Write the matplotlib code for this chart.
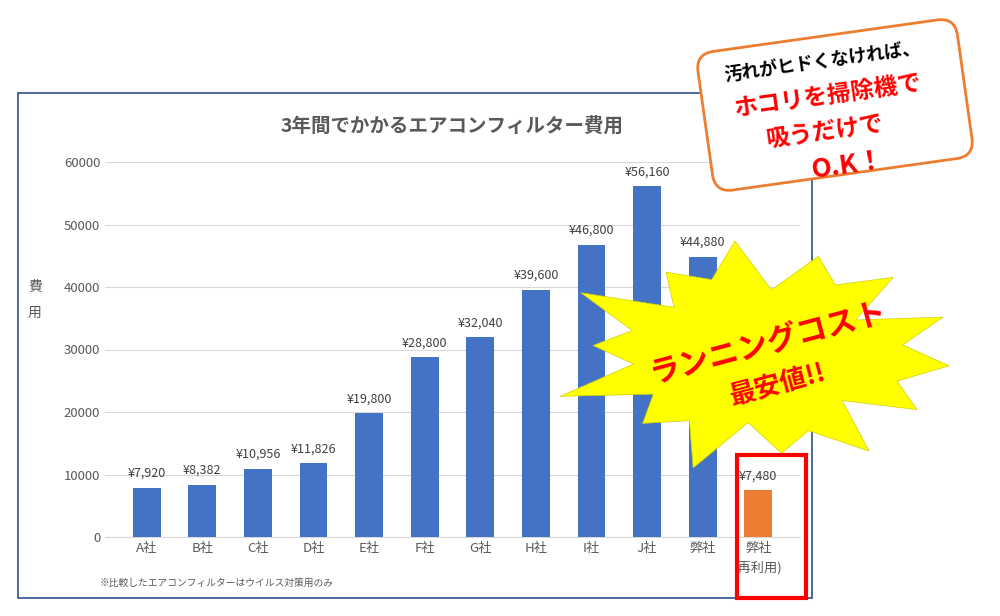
import numpy as np
import matplotlib.pyplot as plt
from matplotlib.patches import Rectangle, Polygon, FancyBboxPatch
from matplotlib.transforms import Affine2D

plt.rcParams['font.family'] = 'Noto Sans CJK JP'

companies = ['A社', 'B社', 'C社', 'D社', 'E社', 'F社', 'G社', 'H社', 'I社', 'J社', '弊社', '弊社\n(再利用)']
costs = [7920, 8382, 10956, 11826, 19800, 28800, 32040, 39600, 46800, 56160, 44880, 7480]
colors = ['#4472C4'] * 11 + ['#ED7D31']

fig = plt.figure(figsize=(10, 6.16), dpi=100)
W, H = 1000, 616

# chart frame
fig.patches.append(Rectangle((18 / W, 1 - 598 / H), 794 / W, 505 / H, transform=fig.transFigure,
                             fill=False, edgecolor='#2F4F8F', linewidth=1.2))

ax = fig.add_axes([105 / W, 1 - 537 / H, 695 / W, 375 / H])
x = np.arange(len(companies))
ax.bar(x, costs, width=0.5, color=colors, zorder=3)
for xi, v in zip(x, costs):
    ax.text(xi, v + 1200, f'¥{v:,}', ha='center', va='bottom', fontsize=9, color='#404040')
ax.set_ylim(0, 60000)
ax.set_xlim(-0.75, len(companies) - 0.25)
ax.set_yticks(range(0, 60001, 10000))
ax.yaxis.grid(True, color='#D9D9D9', linewidth=0.8, zorder=0)
ax.set_xticks(x)
ax.set_xticklabels(companies, fontsize=9.5, color='#595959', linespacing=1.6)
ax.tick_params(length=0, labelsize=9.5, colors='#595959')
for s in ['top', 'right', 'left']:
    ax.spines[s].set_visible(False)
ax.spines['bottom'].set_color('#D9D9D9')
ax.set_title('3年間でかかるエアコンフィルター費用', fontsize=14, color='#595959', fontweight='bold', pad=22)
fig.text(35 / W, 1 - 300 / H, '費\n\n用', fontsize=10, color='#595959', ha='center', va='center', linespacing=0.9)
fig.text(100 / W, 1 - 586 / H, '※比較したエアコンフィルターはウイルス対策用のみ', fontsize=7, color='#595959')

# red box around last bar
fig.patches.append(Rectangle((737 / W, 1 - 598 / H), 69 / W, 143 / H, transform=fig.transFigure,
                             fill=False, edgecolor='#FF0000', linewidth=3, zorder=10))

# starburst
n = 14
ang = np.linspace(0, 2 * np.pi, 2 * n, endpoint=False) + 0.1
rad = np.where(np.arange(2 * n) % 2 == 0, 1.0, 0.68)
rad = rad * (1 + 0.12 * np.sin(np.arange(2 * n) * 1.7))
cx, cy = 760, 355
px = cx + 190 * rad * np.cos(ang)
py = cy + 108 * rad * np.sin(ang)
pts = np.column_stack([px / W, 1 - py / H])
fig.patches.append(Polygon(pts, closed=True, transform=fig.transFigure, facecolor='#FFFF00',
                           edgecolor='#D0D000', linewidth=0.5, zorder=11))
fig.text(768 / W, 1 - 343 / H, 'ランニングコスト', fontsize=22, color='#FF0000', fontweight='bold',
         ha='center', va='center', rotation=15, zorder=12)
fig.text(778 / W, 1 - 385 / H, '最安値!!', fontsize=19, color='#FF0000', fontweight='bold',
         ha='center', va='center', rotation=15, zorder=12)

# rounded callout box
box = FancyBboxPatch((700, 430), 260, 140, boxstyle='round,pad=0,rounding_size=18',
                     facecolor='white', edgecolor='#ED7D31', linewidth=2, zorder=11,
                     transform=Affine2D().rotate_deg_around(830, 500, 8) + fig.dpi_scale_trans.frozen().scale(1 / fig.dpi) + fig.transFigure.frozen() if False else None)
fig.patches.remove(box) if box in fig.patches else None
box = FancyBboxPatch((0, 0), 262, 140, boxstyle='round,pad=0,rounding_size=18',
                     facecolor='white', edgecolor='#ED7D31', linewidth=2, zorder=11)
box.set_transform(Affine2D().translate(-131, -70).rotate_deg(8).translate(835, H - 105))
fig.patches.append(box)
fig.text(822 / W, 1 - 62 / H, '汚れがヒドくなければ、', fontsize=13, color='#000000', fontweight='bold',
         ha='center', va='center', rotation=8, zorder=12)
fig.text(828 / W, 1 - 96 / H, 'ホコリを掃除機で', fontsize=17, color='#FF0000', fontweight='bold',
         ha='center', va='center', rotation=8, zorder=12)
fig.text(825 / W, 1 - 132 / H, '吸うだけで', fontsize=17, color='#FF0000', fontweight='bold',
         ha='center', va='center', rotation=8, zorder=12)
fig.text(848 / W, 1 - 165 / H, 'O.K！', fontsize=19, color='#FF0000', fontweight='bold',
         ha='center', va='center', rotation=8, zorder=12)

fig.savefig('out.png', dpi=100)
